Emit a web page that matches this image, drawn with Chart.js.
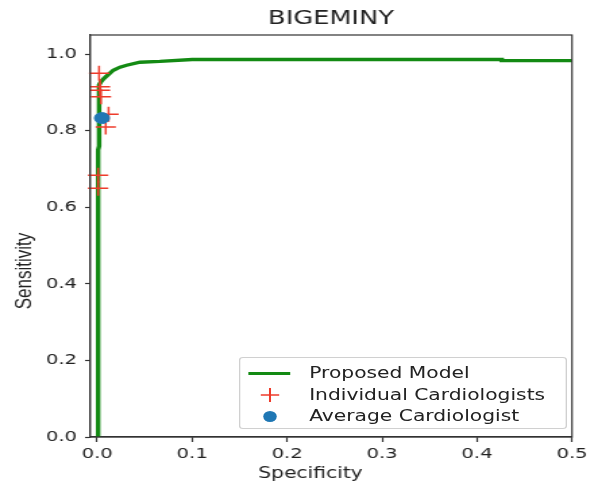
<!DOCTYPE html>
<html>
<head>
<meta charset="utf-8">
<script src="https://cdn.jsdelivr.net/npm/chart.js@4"></script>
<style>
    body { margin: 0; background: #fff; overflow: hidden; }
    /* the reference figure is stretched horizontally, so draw narrow and scale */
    #wrap { position: relative; width: 437px; height: 485px; transform: scaleX(1.35); transform-origin: 0 0; }
    .legend {
        position: absolute; left: 177px; top: 357px; width: 241px; height: 70px;
        border: 1px solid #d0d0d0; border-radius: 3px; background: rgba(255,255,255,0.85);
        font-family: "DejaVu Sans", sans-serif; font-size: 15px; color: #222;
    }
    .legend .row { position: absolute; left: 0; height: 21px; line-height: 21px; }
    .legend .label { position: absolute; left: 51px; white-space: nowrap; }
    .sym { position: absolute; }
</style>
</head>
<body>
<div id="wrap">
    <canvas id="rocChart" width="437" height="485"></canvas>
    <div class="legend">
        <div class="row" style="top:5px">
            <div class="sym" style="left:6px;top:9px;width:31px;height:3px;background:#138a13"></div>
            <span class="label">Proposed Model</span>
        </div>
        <div class="row" style="top:27px">
            <svg class="sym" style="left:15px;top:3px" width="14" height="14">
                <line x1="7" y1="0" x2="7" y2="14" stroke="#ee3b2b" stroke-width="1.5"/>
                <line x1="0" y1="7" x2="14" y2="7" stroke="#ee3b2b" stroke-width="1.5"/>
            </svg>
            <span class="label">Individual Cardiologists</span>
        </div>
        <div class="row" style="top:48px">
            <div class="sym" style="left:17px;top:5px;width:10px;height:11px;border-radius:50%;background:#1f77b4"></div>
            <span class="label">Average Cardiologist</span>
        </div>
    </div>
</div>
<script>
// ROC curve of the model (specificity axis as labelled in the figure)
const modelSpec = [0.001, 0.001, 0.002, 0.002, 0.004, 0.007, 0.011, 0.017, 0.024, 0.031, 0.045, 0.066, 0.1, 0.426, 0.426, 0.5];
const modelSens = [0, 0.75, 0.76, 0.92, 0.928, 0.936, 0.945, 0.958, 0.966, 0.971, 0.979, 0.981, 0.986, 0.986, 0.983, 0.983];

// individual cardiologists
const cardSpec = [0.002, 0.003, 0.003, 0.004, 0.012, 0.009, 0.001, 0.001];
const cardSens = [0.950, 0.915, 0.906, 0.889, 0.843, 0.810, 0.684, 0.650];

// average cardiologist
const avgSpec = [0.005];
const avgSens = [0.833];

const xTicks = [0, 0.1, 0.2, 0.3, 0.4, 0.5];
const yTicks = [0, 0.2, 0.4, 0.6, 0.8, 1.0];

const toPoints = (xs, ys) => xs.map((x, i) => ({ x: x, y: ys[i] }));

const tickFont = { family: 'DejaVu Sans', size: 14.5 };
const axisColor = '#333';

// frame + titles
const framePlugin = {
    id: 'frame',
    afterDraw(chart) {
        const ctx = chart.ctx;
        const a = chart.chartArea;
        ctx.save();
        ctx.strokeStyle = axisColor;
        ctx.lineWidth = 1.2;
        ctx.strokeRect(a.left, a.top, a.right - a.left, a.bottom - a.top);
        ctx.fillStyle = '#222';
        ctx.textAlign = 'center';
        ctx.textBaseline = 'middle';
        ctx.font = '19px "DejaVu Sans"';
        ctx.fillText('BIGEMINY', (a.left + a.right) / 2, 19);
        ctx.font = '15px "DejaVu Sans"';
        ctx.fillText('Specificity', 230, 474);
        ctx.translate(18.5, 271);
        ctx.rotate(-Math.PI / 2);
        ctx.font = '17px "Liberation Sans"';
        ctx.fillText('Sensitivity', 0, 0);
        ctx.restore();
    }
};

new Chart(document.getElementById('rocChart'), {
    type: 'scatter',
    data: {
        datasets: [
            {
                label: 'Proposed Model',
                data: toPoints(modelSpec, modelSens),
                showLine: true,
                borderColor: '#138a13',
                borderWidth: 3.4,
                pointRadius: 0,
                tension: 0,
                clip: false,
                order: 3
            },
            {
                label: 'Individual Cardiologists',
                data: toPoints(cardSpec, cardSens),
                pointStyle: 'cross',
                pointRadius: 7.5,
                borderColor: '#ee3b2b',
                borderWidth: 1.5,
                clip: false,
                order: 2
            },
            {
                label: 'Average Cardiologist',
                data: toPoints(avgSpec, avgSens),
                pointStyle: 'circle',
                pointRadius: 5.5,
                backgroundColor: '#1f77b4',
                borderColor: '#1f77b4',
                clip: false,
                order: 1
            }
        ]
    },
    options: {
        responsive: false,
        animation: false,
        layout: { padding: { top: 35, right: 13.3, left: 0, bottom: 0 } },
        plugins: {
            legend: { display: false },
            tooltip: { enabled: false }
        },
        scales: {
            x: {
                type: 'linear',
                min: -0.0075,
                max: 0.5,
                afterFit: s => { s.height = 48; s.paddingLeft = 0; s.paddingRight = 0; },
                afterBuildTicks: s => { s.ticks = xTicks.map(v => ({ value: v })); },
                ticks: {
                    font: tickFont, color: '#222', padding: 4, maxRotation: 0,
                    callback: v => v.toFixed(1)
                },
                grid: { drawOnChartArea: false, drawTicks: true, tickLength: 5, color: axisColor, tickWidth: 1.2 },
                border: { color: axisColor, width: 1.2 }
            },
            y: {
                type: 'linear',
                min: 0,
                max: 1.05,
                afterFit: s => { s.width = 66.7; s.paddingTop = 0; s.paddingBottom = 0; },
                afterBuildTicks: s => { s.ticks = yTicks.map(v => ({ value: v })); },
                ticks: {
                    font: tickFont, color: '#222', padding: 6,
                    callback: v => v.toFixed(1)
                },
                grid: { drawOnChartArea: false, drawTicks: true, tickLength: 3.7, color: axisColor, tickWidth: 1.2 },
                border: { color: axisColor, width: 1.2 }
            }
        }
    },
    plugins: [framePlugin]
});
</script>
</body>
</html>
